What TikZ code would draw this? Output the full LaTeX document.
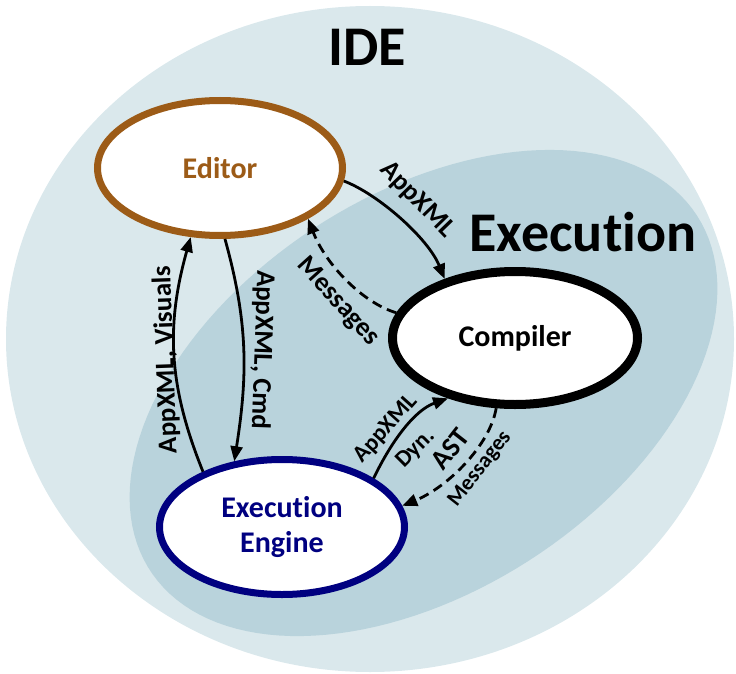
\documentclass[tikz,border=0pt]{standalone}
\usepackage{fontspec}
\setmainfont{Carlito}[Ligatures={NoCommon}]
\usetikzlibrary{arrows.meta,shapes.geometric}
\definecolor{idefill}{HTML}{DAE8EC}
\definecolor{execfill}{HTML}{B9D3DC}
\definecolor{editorbrown}{HTML}{9C5B17}
\definecolor{enginenavy}{HTML}{000080}
\begin{document}
\begin{tikzpicture}[x=1pt,y=-1pt,
  comp/.style={ellipse, draw, fill=white, minimum width=245pt, minimum height=135pt,
    inner sep=0pt, font=\fontsize{30}{35}\selectfont\bfseries, align=center},
  conn/.style={line width=2.8pt, -{Triangle[length=15pt,width=12pt]}},
  dconn/.style={conn, dash pattern=on 10pt off 6pt},
  lbl/.style={font=\fontsize{27}{30}\selectfont\bfseries, inner sep=0pt},
  slbl/.style={font=\fontsize{23.5}{26}\selectfont\bfseries, inner sep=0pt},
  title/.style={font=\fontsize{56}{60}\selectfont\bfseries, inner sep=0pt}
]
\useasboundingbox (0,0) rectangle (736,674);
% IDE region
\fill[idefill] (370,339) ellipse [x radius=364, y radius=333];
% Execution region
\fill[execfill] plot[domain=0:360, samples=144, variable=\t]
  ({423.5 + 326*cos(\t)*cos(33) + 198*sin(\t)*sin(33)},
   {393 - 326*cos(\t)*sin(33) + 198*sin(\t)*cos(33)}) -- cycle;

\node[title] (ide) at (367,47) {IDE};
\node[title] (exe) at (583,232) {Execution};

\node[comp, draw=editorbrown, line width=7pt, text=editorbrown] (editor) at (220,168) {Editor};
\node[comp, draw=black, line width=9pt, minimum height=133pt] (compiler) at (515,338) {Compiler};
\node[comp, draw=enginenavy, line width=7pt, text=enginenavy] (engine) at (282,527) {Execution\\Engine};

% Editor -> Compiler
\draw[conn] (editor.-6) .. controls (378,194) and (428,238) .. (compiler.140);
% Compiler -> Editor (dashed)
\draw[dconn] (compiler.168) .. controls (363,303) and (326,265) .. (editor.-30);
% Editor -> Engine
\draw[conn] (editor.-86) .. controls (248,322) and (248,374) .. (engine.126);
% Engine -> Editor
\draw[conn] (engine.145) .. controls (168,385) and (166,325) .. (editor.-113);
% Engine -> Compiler
\draw[conn] (engine.28) .. controls (392,440) and (415,410) .. (compiler.-138);
% Compiler -> Engine (dashed)
\draw[dconn] (compiler.-105) .. controls (490,445) and (448,487) .. (engine.10);

\node[lbl, rotate=-46] (l1) at (417,200) {AppXML};
\node[lbl, rotate=-48] (l2) at (338,302) {Messages};
\node[lbl, rotate=-92] (l3) at (262,350) {AppXML, Cmd};
\node[lbl, rotate=92] (l4) at (166,360) {AppXML, Visuals};
\node[slbl, rotate=48] (l5) at (386,429) {AppXML};
\node[slbl, rotate=45] (l6) at (416,449) {Dyn.};
\node[font=\fontsize{28}{30}\selectfont\bfseries, inner sep=0pt, rotate=52] (l7) at (450,449) {AST};
\node[font=\fontsize{22}{24}\selectfont\bfseries, inner sep=0pt, rotate=52] (l8) at (480,469) {Messages};
\end{tikzpicture}
\end{document}
